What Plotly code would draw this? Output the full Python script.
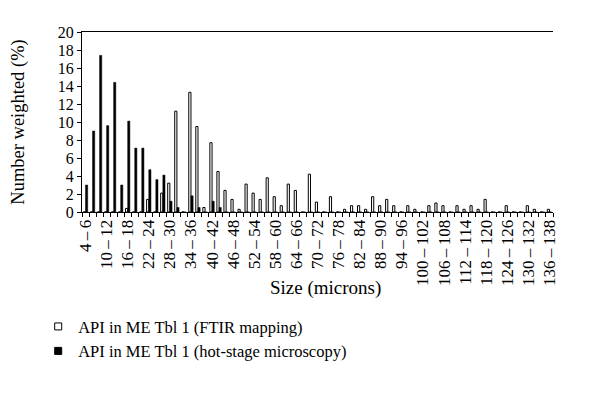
import plotly.graph_objects as go

# size classes in microns (2-micron bins)
size_bins = [f"{lo}\u2009\u2013\u2009{lo + 2}" for lo in range(4, 138, 2)]

# number weighted (%) per bin
ftir_mapping = [
    0, 0, 0, 0, 0, 0, 0.4, 0, 0, 1.4,
    0, 2.1, 3.2, 11.2, 0, 13.3, 9.5, 0.5, 7.7, 4.5,
    2.4, 1.4, 0.3, 3.1, 2.1, 1.4, 3.8, 1.7, 0.7, 3.1,
    2.4, 0, 4.2, 1.1, 0, 1.7, 0, 0.3, 0.7, 0.7,
    0.3, 1.7, 0.7, 1.4, 0.7, 0, 0.7, 0.3, 0, 0.7,
    1.0, 0.7, 0, 0.7, 0.3, 0.7, 0.3, 1.4, 0, 0,
    0.7, 0, 0, 0.7, 0.3, 0, 0.3,
]
hot_stage = [
    3.0, 9.0, 17.4, 9.6, 14.4, 3.0, 10.1, 7.1, 7.1, 4.7,
    3.6, 4.1, 1.2, 0.5, 0, 1.8, 0.5, 0, 1.2, 0.5,
    0, 0, 0, 0, 0, 0, 0, 0, 0, 0,
    0, 0, 0, 0, 0, 0, 0, 0, 0, 0,
    0, 0, 0, 0, 0, 0, 0, 0, 0, 0,
    0, 0, 0, 0, 0, 0, 0, 0, 0, 0,
    0, 0, 0, 0, 0, 0, 0,
]
y_ticks = [0, 2, 4, 6, 8, 10, 12, 14, 16, 18, 20]

FONT = "Liberation Serif, Times New Roman, serif"
positions = list(range(len(size_bins)))

fig = go.Figure()
fig.add_trace(go.Bar(
    x=positions, y=ftir_mapping, name="API in ME Tbl 1 (FTIR mapping)",
    marker={"color": "white", "line": {"color": "black", "width": 1}},
    showlegend=False,
))
fig.add_trace(go.Bar(
    x=positions, y=hot_stage, name="API in ME Tbl 1 (hot-stage microscopy)",
    marker={"color": "black", "line": {"color": "black", "width": 0.5}},
    showlegend=False,
))
# legend-only entries with small square symbols
fig.add_trace(go.Scatter(
    x=[None], y=[None], mode="markers", name="API in ME Tbl 1 (FTIR mapping)",
    marker={"symbol": "square", "size": 7, "color": "white", "line": {"color": "black", "width": 1}},
))
fig.add_trace(go.Scatter(
    x=[None], y=[None], mode="markers", name="API in ME Tbl 1 (hot-stage microscopy)",
    marker={"symbol": "square", "size": 7, "color": "black", "line": {"color": "black", "width": 1}},
))

# the page body adds an 8px offset, so margins are 8px smaller on the left/top
fig.update_layout(
    width=600, height=409,
    margin={"l": 74, "r": 55, "t": 24, "b": 205},
    paper_bgcolor="white", plot_bgcolor="white",
    font={"family": FONT, "size": 16, "color": "black"},
    barmode="group", bargap=0.38, bargroupgap=0,
    legend={
        "x": -0.093, "y": -0.54, "xanchor": "left", "yanchor": "top",
        "orientation": "v", "font": {"size": 16.5}, "tracegroupgap": 0,
        "itemwidth": 30, "bgcolor": "rgba(0,0,0,0)",
    },
    xaxis={
        "range": [-0.5, len(size_bins) - 0.5],
        "tickmode": "array",
        "tickvals": positions[::3],
        "ticktext": size_bins[::3],
        "tickangle": -90,
        "ticks": "", "ticklen": 0,
        "tickfont": {"size": 17},
        "automargin": False,
        "showline": True, "linecolor": "black", "linewidth": 1, "mirror": True,
        "showgrid": False, "zeroline": False,
        "minor": {"tickmode": "linear", "tick0": -0.5, "dtick": 1,
                  "ticks": "outside", "ticklen": 4, "tickcolor": "black", "showgrid": False},
    },
    yaxis={
        "range": [0, 20],
        "tickmode": "array", "tickvals": y_ticks,
        "ticks": "outside", "ticklen": 4, "tickcolor": "black",
        "tickfont": {"size": 16},
        "automargin": False,
        "showline": True, "linecolor": "black", "linewidth": 1,
        "showgrid": False, "zeroline": False,
        "title": {"text": "Number weighted (%)", "font": {"size": 18.5}, "standoff": 32},
    },
    annotations=[{
        "text": "Size (microns)", "xref": "paper", "yref": "paper",
        "x": 0.517, "y": -0.42, "showarrow": False, "font": {"size": 19},
        "xanchor": "center", "yanchor": "middle",
    }],
)

fig.write_html("out.html")
